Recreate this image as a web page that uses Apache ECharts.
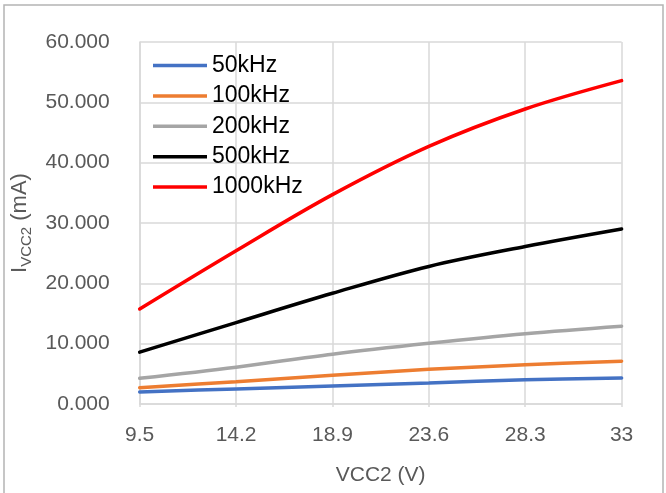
<!DOCTYPE html>
<html>
<head>
<meta charset="utf-8">
<script src="https://cdn.jsdelivr.net/npm/echarts@6/dist/echarts.min.js"></script>
<style>
html,body{margin:0;padding:0;background:#fff;}
#chart{width:666px;height:493px;}
</style>
</head>
<body>
<div id="chart"></div>
<script>
const categories = ['9.5', '14.2', '18.9', '23.6', '28.3', '33'];
const seriesNames = ['50kHz', '100kHz', '200kHz', '500kHz', '1000kHz'];
const data50k = [2.0, 2.5, 3.0, 3.5, 4.0, 4.3];
const data100k = [2.7, 3.7, 4.75, 5.75, 6.5, 7.1];
const data200k = [4.25, 6.1, 8.25, 10.05, 11.65, 12.9];
const data500k = [8.6, 13.5, 18.35, 22.8, 26.1, 29.0];
const data1000k = [15.75, 25.4, 34.7, 42.7, 48.9, 53.6];
const colors = ['#4472C4', '#ED7D31', '#A5A5A5', '#000000', '#FF0000'];
const allData = [data50k, data100k, data200k, data500k, data1000k];

const FONT = 'Liberation Sans';
const chart = echarts.init(document.getElementById('chart'));
chart.setOption({
  animation: false,
  textStyle: { fontFamily: FONT },
  graphic: [{
    type: 'rect',
    shape: { x: 4, y: 5, width: 659, height: 500 },
    style: { fill: 'none', stroke: '#b4b4b4', lineWidth: 1.5 },
    silent: true
  }],
  grid: { left: 139.7, right: 44.4, top: 42, bottom: 89, containLabel: false },
  legend: {
    orient: 'vertical',
    left: 153, top: 54, padding: 0,
    icon: 'rect',
    itemWidth: 54, itemHeight: 3.5, itemGap: 7.4,
    textStyle: { fontFamily: FONT, fontSize: 23, color: '#000', lineHeight: 23 },
    data: seriesNames
  },
  xAxis: {
    type: 'category',
    data: categories,
    boundaryGap: false,
    name: 'VCC2 (V)',
    nameLocation: 'middle',
    nameGap: 61,
    nameTextStyle: { fontFamily: FONT, fontSize: 21, color: '#595959' },
    axisLine: { lineStyle: { color: '#d9d9d9', width: 1.5 } },
    axisTick: { show: true, length: 3, lineStyle: { color: '#d9d9d9', width: 1.5 } },
    axisLabel: { fontFamily: FONT, fontSize: 21, color: '#595959', margin: 21 },
    splitLine: { show: true, lineStyle: { color: '#d9d9d9', width: 1.5 } }
  },
  yAxis: {
    type: 'value',
    min: 0, max: 60, interval: 10,
    name: '{a|I}{b|VCC2}{a| (mA)}',
    nameLocation: 'middle',
    nameRotate: 90,
    nameGap: 105,
    nameTextStyle: {
      fontFamily: FONT, color: '#595959',
      rich: {
        a: { fontFamily: FONT, fontSize: 22, color: '#595959', lineHeight: 30, verticalAlign: 'middle' },
        b: { fontFamily: FONT, fontSize: 15, color: '#595959', lineHeight: 15, verticalAlign: 'bottom' }
      }
    },
    axisLine: { show: true, lineStyle: { color: '#d9d9d9', width: 1.5 } },
    axisTick: { show: false },
    axisLabel: {
      fontFamily: FONT, fontSize: 21, color: '#595959', margin: 30,
      formatter: v => v.toFixed(3)
    },
    splitLine: { show: true, lineStyle: { color: '#d9d9d9', width: 1.5 } }
  },
  series: seriesNames.map((n, i) => ({
    name: n,
    type: 'line',
    data: allData[i],
    symbol: 'none',
    smooth: 0.35,
    color: colors[i],
    itemStyle: { color: colors[i] },
    lineStyle: { color: colors[i], width: 3.5, cap: 'round' }
  }))
});
</script>
</body>
</html>
